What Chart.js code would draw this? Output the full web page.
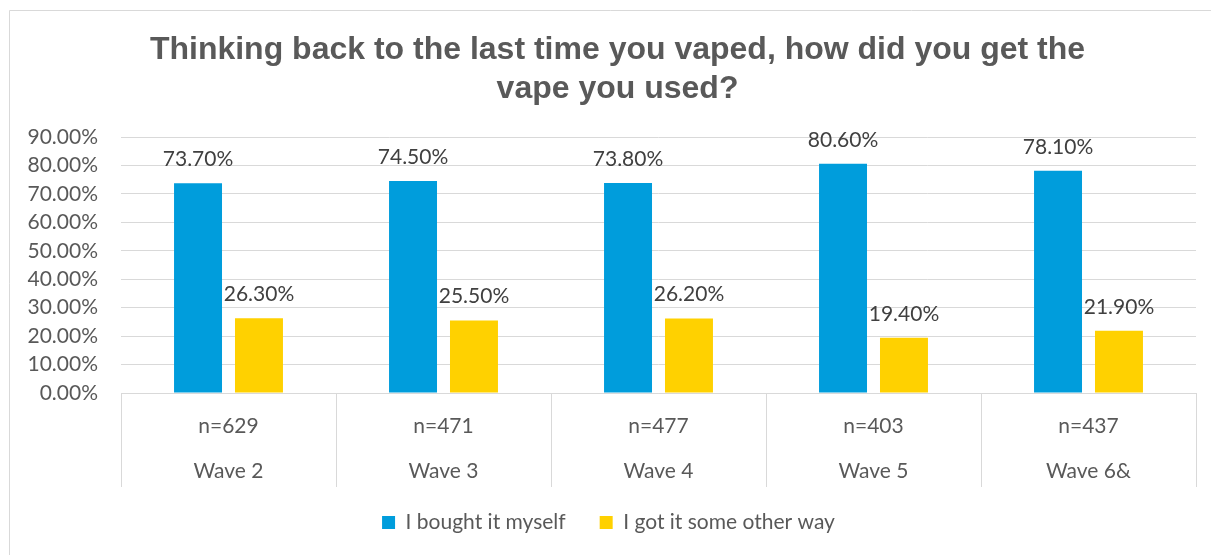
<!DOCTYPE html>
<html>
<head>
<meta charset="utf-8">
<script src="https://cdn.jsdelivr.net/npm/chart.js@4/dist/chart.umd.min.js"></script>
<style>
  html, body { margin: 0; padding: 0; background: #ffffff; }
  #wrap { width: 1211px; height: 555px; position: relative; }
</style>
</head>
<body>
<div id="wrap"><canvas id="c" width="1211" height="555"></canvas></div>
<script>
const titleLines = ['Thinking back to the last time you vaped, how did you get the', 'vape you used?'];
const waves = ['Wave 2', 'Wave 3', 'Wave 4', 'Wave 5', 'Wave 6&'];
const sampleSizes = ['n=629', 'n=471', 'n=477', 'n=403', 'n=437'];
const seriesNames = ['I bought it myself', 'I got it some other way'];
const boughtMyself = [73.7, 74.5, 73.8, 80.6, 78.1];
const otherWay = [26.3, 25.5, 26.2, 19.4, 21.9];
const yTicks = [0, 10, 20, 30, 40, 50, 60, 70, 80, 90];

const GRID = '#d9d9d9';
const TEXT = '#595959';
const LABEL = '#404040';
const BASE_FONT = 'Lato';
const FS = 21;

const labels = waves.map((w, i) => [sampleSizes[i], w]);

const decorPlugin = {
  id: 'decor',
  beforeDraw(chart) {
    const ctx = chart.ctx;
    ctx.save();
    ctx.fillStyle = '#ffffff';
    ctx.fillRect(0, 0, chart.width, chart.height);
    ctx.strokeStyle = GRID;
    ctx.lineWidth = 1;
    ctx.beginPath();
    ctx.moveTo(9.5, chart.height + 5);
    ctx.lineTo(9.5, 10.5);
    ctx.lineTo(chart.width + 5, 10.5);
    ctx.stroke();
    ctx.restore();
  },
  afterLayout(chart) {
    // Excel centres the title on the full chart object, which is wider than the visible crop
    const t = chart.titleBlock;
    if (t) { t.left += 9; t.right += 9; }
  },
  afterDraw(chart) {
    const ctx = chart.ctx;
    const xs = chart.scales.x;
    const n = xs.ticks.length;
    const step = (xs.right - xs.left) / n;
    const top = chart.chartArea.bottom;
    const bottom = top + 94;
    ctx.save();
    ctx.strokeStyle = GRID;
    ctx.lineWidth = 1;
    ctx.beginPath();
    for (let i = 0; i <= n; i++) {
      const x = Math.round(xs.left + i * step) + 0.5;
      ctx.moveTo(x, top);
      ctx.lineTo(x, bottom);
    }
    ctx.moveTo(xs.left, Math.round(top) + 0.5);
    ctx.lineTo(xs.right, Math.round(top) + 0.5);
    ctx.stroke();
    ctx.restore();
  },
  afterDatasetsDraw(chart) {
    const ctx = chart.ctx;
    ctx.save();
    ctx.font = FS + 'px ' + BASE_FONT;
    ctx.fillStyle = LABEL;
    ctx.textAlign = 'center';
    ctx.textBaseline = 'alphabetic';
    chart.data.datasets.forEach((ds, di) => {
      const meta = chart.getDatasetMeta(di);
      meta.data.forEach((bar, i) => {
        ctx.fillText(ds.data[i].toFixed(2) + '%', bar.x, bar.y - 17);
      });
    });
    ctx.restore();
  }
};

new Chart(document.getElementById('c'), {
  type: 'bar',
  data: {
    labels: labels,
    datasets: [
      { label: seriesNames[0], data: boughtMyself, backgroundColor: '#009DDC', borderWidth: 0 },
      { label: seriesNames[1], data: otherWay, backgroundColor: '#FFD100', borderWidth: 0 }
    ]
  },
  plugins: [decorPlugin],
  options: {
    responsive: false,
    animation: false,
    devicePixelRatio: 1,
    layout: { padding: { left: 21, right: 15, top: 0, bottom: 12 } },
    datasets: { bar: { categoryPercentage: 0.567, barPercentage: 0.787 } },
    plugins: {
      title: {
        display: true,
        text: titleLines,
        color: TEXT,
        font: { family: 'Liberation Sans', size: 32, weight: 'bold', lineHeight: 39 / 32 },
        padding: { top: 31, bottom: 28 }
      },
      legend: {
        position: 'bottom',
        labels: {
          color: TEXT,
          font: { family: BASE_FONT, size: FS },
          boxWidth: 13,
          boxHeight: 13,
          padding: 34
        }
      },
      tooltip: { enabled: false }
    },
    scales: {
      x: {
        grid: { display: false, drawTicks: false },
        border: { display: false },
        ticks: {
          color: TEXT,
          font: { family: BASE_FONT, size: FS, lineHeight: 45 / FS },
          padding: 11,
          maxRotation: 0,
          autoSkip: false
        },
        afterFit(scale) { scale.height = 85; }
      },
      y: {
        min: 0,
        max: 90,
        afterBuildTicks(scale) { scale.ticks = yTicks.map(v => ({ value: v })); },
        grid: { color: GRID, lineWidth: 1, drawTicks: false },
        border: { display: false },
        ticks: {
          color: TEXT,
          font: { family: BASE_FONT, size: FS },
          padding: 23,
          callback: v => Number(v).toFixed(2) + '%'
        },
        afterFit(scale) { scale.width = 100; }
      }
    }
  }
});
</script>
</body>
</html>
